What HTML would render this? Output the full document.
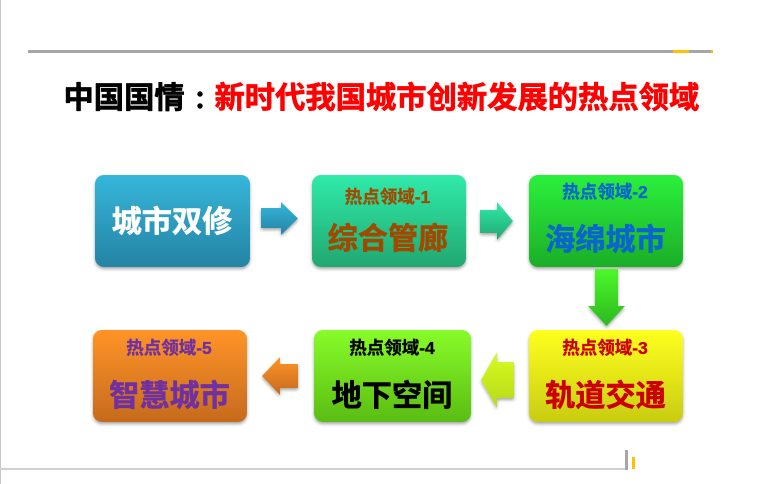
<!DOCTYPE html>
<html lang="zh"><head><meta charset="utf-8"><style>
html,body{margin:0;padding:0;background:#fff;width:780px;height:484px;overflow:hidden}
svg{display:block;position:absolute;left:0;top:0}
text{font-family:"Liberation Sans","Noto Sans CJK SC",sans-serif;font-weight:700;text-anchor:middle;stroke-width:.55px;stroke-linejoin:round}
.b{font-size:30.2px}.s{font-size:17.5px;stroke-width:.35px}
.t{font-size:30.3px;text-anchor:start;stroke-width:.7px}
</style></head><body>
<svg width="780" height="484" viewBox="0 0 780 484" xmlns="http://www.w3.org/2000/svg">
<defs>
<linearGradient id="g1" x1="0" y1="0" x2="0" y2="1"><stop offset="0" stop-color="#35b6da"/><stop offset="1" stop-color="#2583a4"/></linearGradient>
<linearGradient id="g2" x1="0" y1="0" x2="0" y2="1"><stop offset="0" stop-color="#30eaaa"/><stop offset="1" stop-color="#22a870"/></linearGradient>
<linearGradient id="g3" x1="0" y1="0" x2="0" y2="1"><stop offset="0" stop-color="#2cf03c"/><stop offset="1" stop-color="#1cae28"/></linearGradient>
<linearGradient id="g4" x1="0" y1="0" x2="0" y2="1"><stop offset="0" stop-color="#ffff20"/><stop offset="1" stop-color="#c8cc10"/></linearGradient>
<linearGradient id="g5" x1="0" y1="0" x2="0" y2="1"><stop offset="0" stop-color="#88fc2a"/><stop offset="1" stop-color="#5abc12"/></linearGradient>
<linearGradient id="g6" x1="0" y1="0" x2="0" y2="1"><stop offset="0" stop-color="#ff9428"/><stop offset="1" stop-color="#c66a1e"/></linearGradient>
<linearGradient id="g7" x1="0" y1="0" x2="0" y2="1"><stop offset="0" stop-color="#4cf82a"/><stop offset="1" stop-color="#2cb81e"/></linearGradient>
<linearGradient id="g8" x1="0" y1="0" x2="0" y2="1"><stop offset="0" stop-color="#d6fc22"/><stop offset="1" stop-color="#b8d81a"/></linearGradient>
<filter id="sh" x="-10%" y="-10%" width="120%" height="125%"><feDropShadow dx="0" dy="2" stdDeviation="1.5" flood-color="#000" flood-opacity=".35"/></filter>
</defs>

<rect x="0" y="0" width="1" height="484" fill="#c8c8c8"/>
<rect x="28" y="50" width="685" height="3" fill="#a6a6a6"/>
<rect x="673" y="50" width="16" height="3" fill="#ffc000"/>
<rect x="711" y="50" width="2" height="3" fill="#ffc000"/>

<text class="t" x="63.500" y="108" fill="#000" stroke="#000">中国国情</text>
<circle cx="200" cy="94" r="2.700" fill="#000"/>
<circle cx="200" cy="106" r="2.700" fill="#000"/>
<text class="t" x="214.500" y="108" fill="#f00" stroke="#f00">新时代我国城市创新发展的热点领域</text>

<rect x="95" y="175" width="155" height="92" rx="9" fill="url(#g1)" filter="url(#sh)"/>
<rect x="312" y="175" width="154" height="92" rx="9" fill="url(#g2)" filter="url(#sh)"/>
<rect x="529" y="175" width="154" height="92" rx="9" fill="url(#g3)" filter="url(#sh)"/>
<rect x="529" y="330" width="154" height="92" rx="9" fill="url(#g4)" filter="url(#sh)"/>
<rect x="314" y="330" width="157" height="92" rx="9" fill="url(#g5)" filter="url(#sh)"/>
<rect x="93" y="330" width="154" height="92" rx="9" fill="url(#g6)" filter="url(#sh)"/>

<polygon points="261,208 281,208 281,202 298,218.500 281,235 281,228 261,228" fill="url(#g1)" filter="url(#sh)"/>
<polygon points="480,210 497,210 497,202 513,221 497,240 497,233 480,233" fill="url(#g2)" filter="url(#sh)"/>
<polygon points="595,269 618,269 618,306 625,306 606.500,326 588,306 595,306" fill="url(#g7)" filter="url(#sh)"/>
<polygon points="514,362 497,362 497,352 481,380 497,408 497,398 514,398" fill="url(#g8)" filter="url(#sh)"/>
<polygon points="298,364 280,364 280,357 262,376 280,395 280,388 298,388" fill="url(#g6)" filter="url(#sh)"/>

<text class="b" x="172" y="232" fill="#fff" stroke="#fff">城市双修</text>
<text class="s" x="387.500" y="203" fill="#a04a00" stroke="#a04a00">热点领域-1</text>
<text class="b" x="388" y="249" fill="#a04a00" stroke="#a04a00">综合管廊</text>
<text class="s" x="605" y="198" fill="#0a66cc" stroke="#0a66cc">热点领域-2</text>
<text class="b" x="605.500" y="250" fill="#0a66cc" stroke="#0a66cc">海绵城市</text>
<text class="s" x="605" y="354" fill="#cc0000" stroke="#cc0000">热点领域-3</text>
<text class="b" x="605.500" y="406" fill="#cc0000" stroke="#cc0000">轨道交通</text>
<text class="s" x="392" y="354" fill="#000" stroke="#000">热点领域-4</text>
<text class="b" x="392" y="406" fill="#000" stroke="#000">地下空间</text>
<text class="s" x="169" y="354" fill="#7030a0" stroke="#7030a0">热点领域-5</text>
<text class="b" x="169.500" y="406" fill="#7030a0" stroke="#7030a0">智慧城市</text>

<rect x="0" y="468" width="626" height="2" fill="#d0d0d0"/>
<rect x="625" y="450" width="3" height="20" fill="#a6a6a6"/>
<rect x="632" y="457" width="3" height="12" fill="#ffc000"/>
</svg>
</body></html>
